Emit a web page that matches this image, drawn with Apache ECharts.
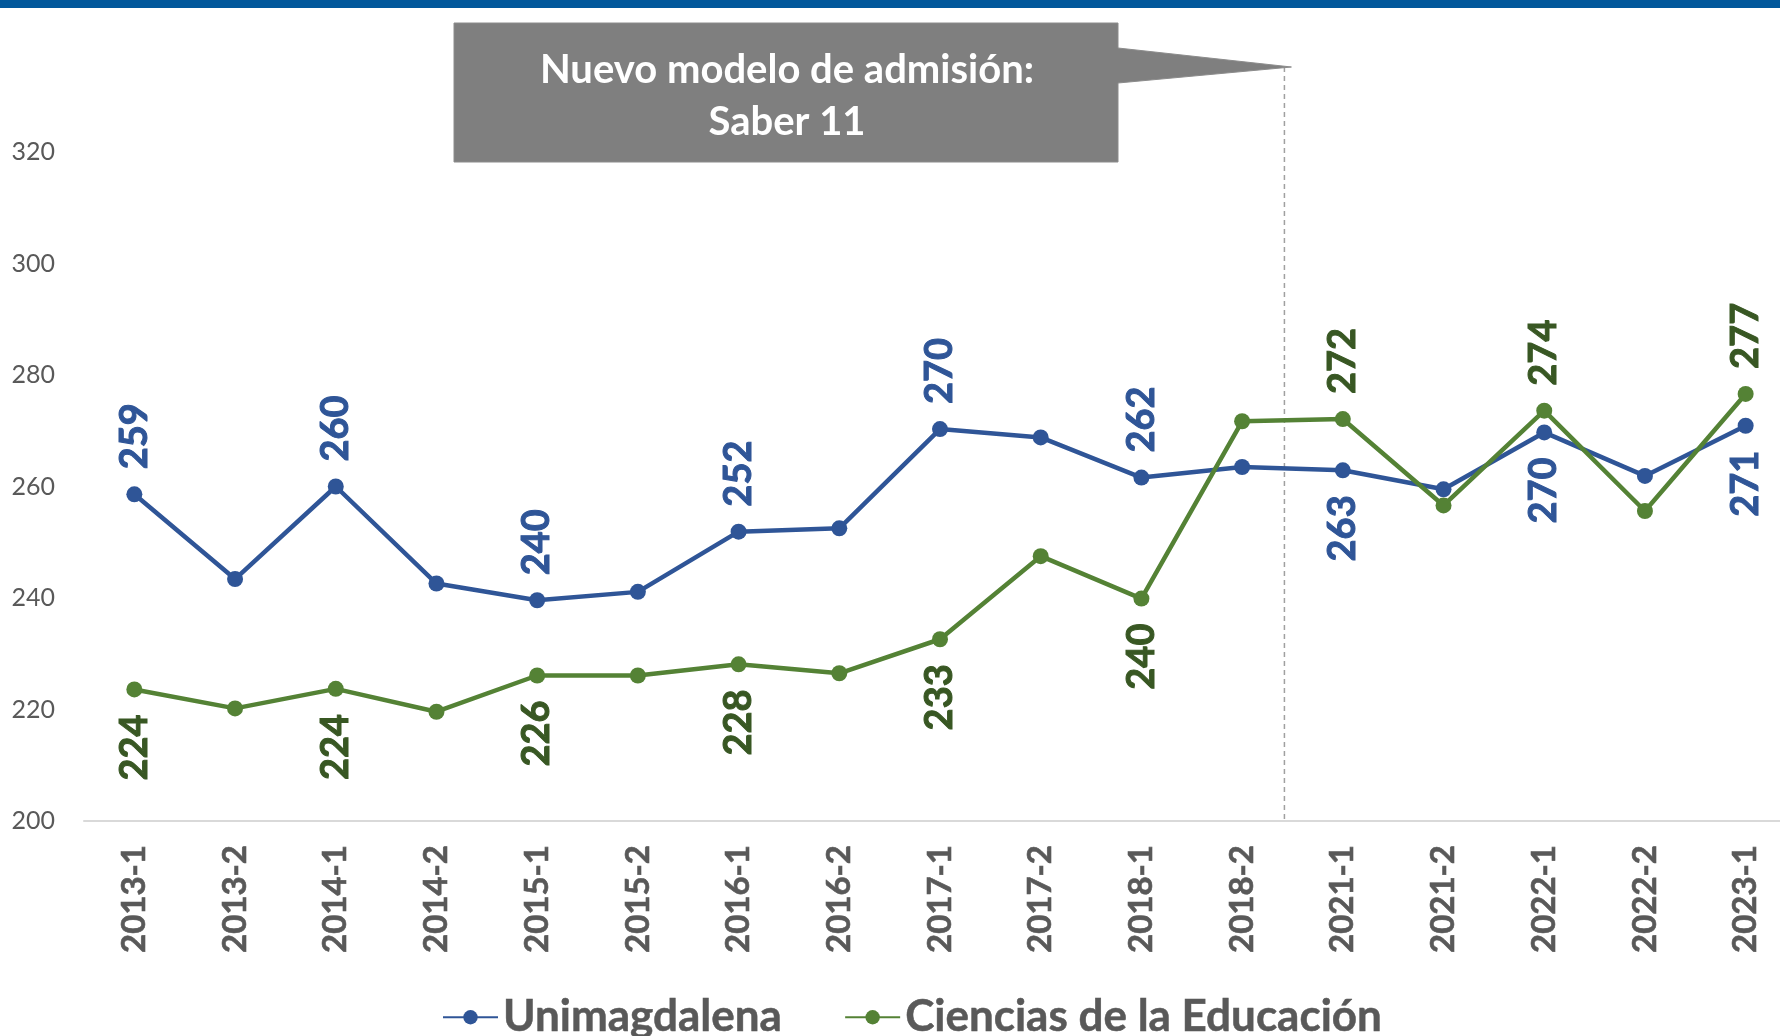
<!DOCTYPE html>
<html>
<head>
<meta charset="utf-8">
<script src="https://cdn.jsdelivr.net/npm/echarts@6/dist/echarts.min.js"></script>
<style>
  html, body { margin: 0; padding: 0; background: #fff; overflow: hidden; }
  /* el eje llega más allá del borde derecho, como en el original */
  #chart { width: 1796px; height: 1036px; }
</style>
</head>
<body>
<div id="chart"></div>
<script>
const categories = ['2013-1', '2013-2', '2014-1', '2014-2', '2015-1', '2015-2', '2016-1', '2016-2',
  '2017-1', '2017-2', '2018-1', '2018-2', '2021-1', '2021-2', '2022-1', '2022-2', '2023-1']
const unimagdalena = [258.6, 243.4, 260.0, 242.6, 239.6, 241.1, 251.9, 252.5, 270.3, 268.8, 261.6, 263.5, 262.9, 259.5, 269.7, 261.9, 270.9]
const cienciasEducacion = [223.6, 220.2, 223.7, 219.6, 226.1, 226.1, 228.1, 226.5, 232.6, 247.5, 239.9, 271.7, 272.1, 256.6, 273.6, 255.6, 276.6]
// puntos con etiqueta y si la etiqueta de Unimagdalena va arriba
const labeledIdx = [0, 2, 4, 6, 8, 10, 12, 14, 16]
const blueAbove = [true, true, true, true, true, true, false, false, false]
const yTicks = [200, 220, 240, 260, 280, 300, 320]

const BLUE = '#2F5597'
const GREEN = '#548235'
const FONT = 'Lato, "Open Sans", sans-serif'

function labelFor(pos, color) {
  const up = pos === 'top'
  return {
    show: true, position: pos, distance: 17, rotate: 90,
    align: up ? 'left' : 'right', verticalAlign: 'middle',
    fontFamily: FONT, fontWeight: 'bold', fontSize: 38, color,
    textBorderColor: color, textBorderWidth: 1,
    formatter: p => Math.round(p.value)
  }
}

function buildData(values, color, above) {
  return values.map((v, i) => {
    const k = labeledIdx.indexOf(i)
    if (k < 0) return { value: v, label: { show: false } }
    return { value: v, label: labelFor(above(k) ? 'top' : 'bottom', color) }
  })
}

const chart = echarts.init(document.getElementById('chart'))

chart.setOption({
  backgroundColor: '#fff',
  animation: false,
  grid: { left: 84, right: 0, top: 152, bottom: 215 },
  legend: {
    left: 437, top: 990,
    itemWidth: 55, itemHeight: 18, itemGap: 62,
    textStyle: {
      fontFamily: FONT, fontSize: 44, fontWeight: 'bold', color: '#595959',
      textBorderColor: '#595959', textBorderWidth: 0.5
    },
    data: ['Unimagdalena', 'Ciencias de la Educación']
  },
  xAxis: {
    type: 'category', data: categories, boundaryGap: true,
    axisLine: { lineStyle: { color: '#D9D9D9', width: 2 } },
    axisTick: { show: false },
    axisLabel: {
      rotate: 90, margin: 24, interval: 0, fontFamily: FONT, fontWeight: 'bold', fontSize: 33, color: '#595959',
      textBorderColor: '#595959', textBorderWidth: 0.6
    }
  },
  yAxis: {
    type: 'value', min: yTicks[0], max: yTicks[yTicks.length - 1], interval: 20,
    axisLine: { show: false }, axisTick: { show: false },
    splitLine: { show: false },
    axisLabel: { margin: 29, fontFamily: FONT, fontSize: 25, color: '#595959' }
  },
  series: [
    {
      name: 'Unimagdalena', type: 'line',
      data: buildData(unimagdalena, BLUE, k => blueAbove[k]),
      symbol: 'circle', symbolSize: 16,
      lineStyle: { color: BLUE, width: 4.5 }, itemStyle: { color: BLUE }, z: 3
    },
    {
      name: 'Ciencias de la Educación', type: 'line',
      data: buildData(cienciasEducacion, '#385723', k => !blueAbove[k]),
      symbol: 'circle', symbolSize: 16,
      lineStyle: { color: GREEN, width: 4.5 }, itemStyle: { color: GREEN }, z: 4
    }
  ]
})

// línea de corte entre 2018-2 y 2021-1 y el globo de anotación
const x11 = chart.convertToPixel({ xAxisIndex: 0 }, 11)
const x12 = chart.convertToPixel({ xAxisIndex: 0 }, 12)
const cutX = x11 + (x12 - x11) * 0.42
const yBase = chart.convertToPixel({ yAxisIndex: 0 }, 200)

chart.setOption({
  graphic: [
    { type: 'rect', left: 0, top: 0, shape: { width: 1796, height: 8 }, style: { fill: '#02589B' } },
    {
      type: 'line', shape: { x1: cutX, y1: 67, x2: cutX, y2: yBase },
      style: { stroke: '#A0A0A0', lineWidth: 1.5, lineDash: [5, 4] }
    },
    {
      type: 'polygon',
      shape: { points: [[454, 23], [1118, 23], [1118, 48], [cutX + 7, 67], [1118, 83], [1118, 162], [454, 162]] },
      style: { fill: '#7F7F7F', stroke: '#8C8C8C', lineWidth: 1 }, z: 10
    },
    {
      type: 'text', x: 787, y: 96, z: 11,
      style: {
        text: 'Nuevo modelo de admisión:\nSaber 11', fill: '#fff',
        font: 'bold 40px ' + FONT, lineHeight: 52,
        align: 'center', verticalAlign: 'middle'
      }
    }
  ]
})
</script>
</body>
</html>
